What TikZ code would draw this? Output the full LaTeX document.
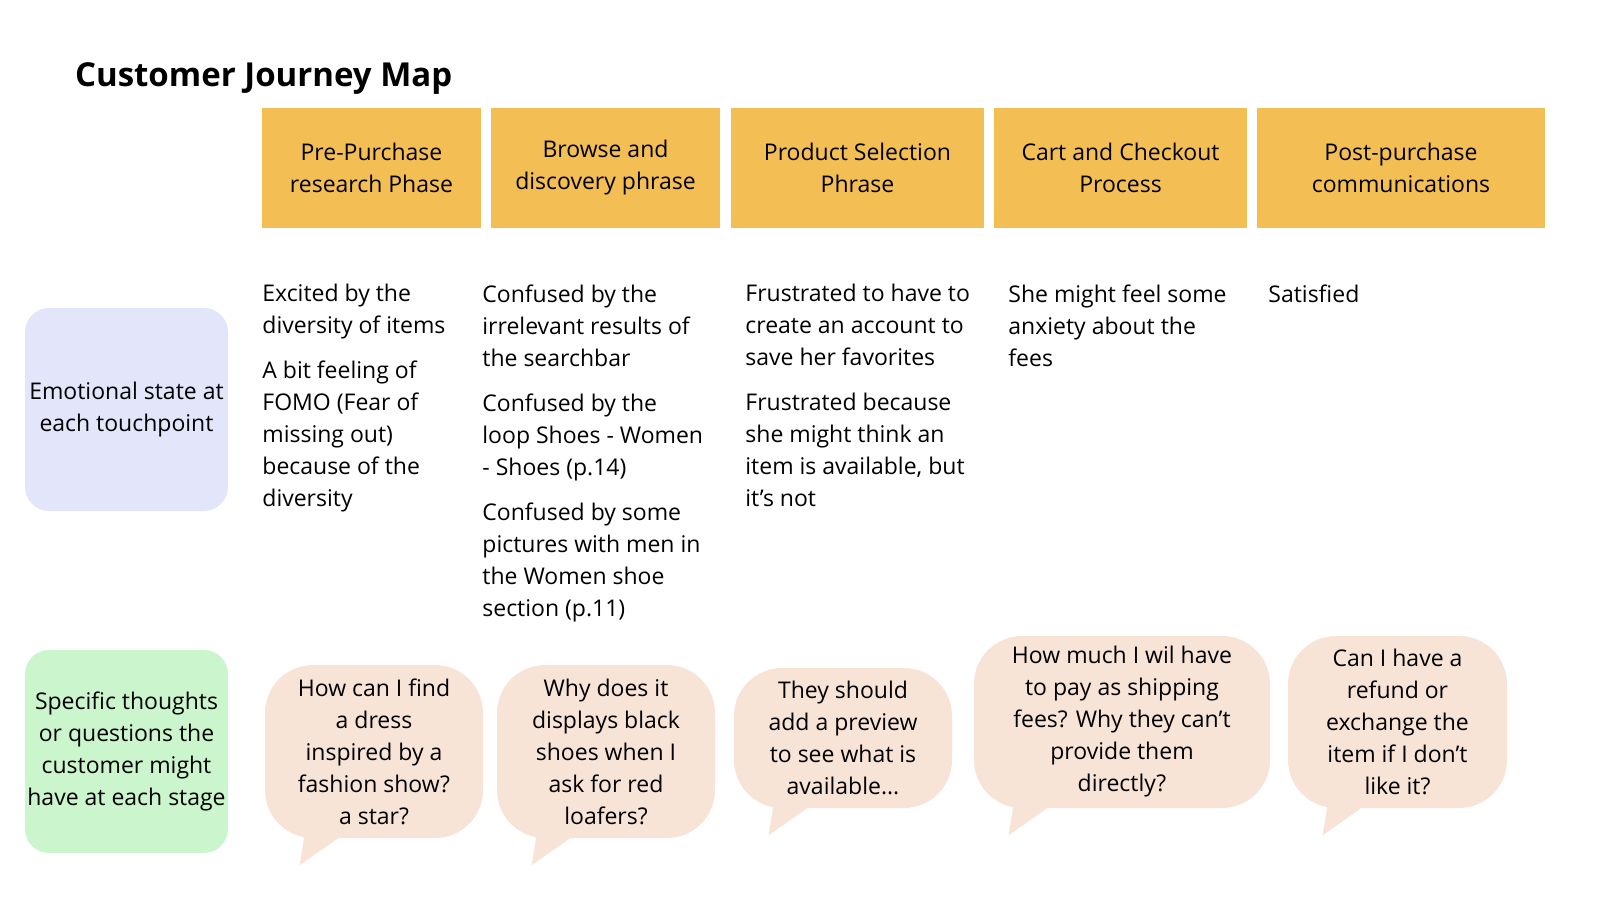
\documentclass[tikz,border=0pt]{standalone}
\usepackage{fontspec}
\setmainfont{Open Sans}
\usetikzlibrary{positioning}
\definecolor{phaseorange}{HTML}{F3BF55}
\definecolor{emoblue}{HTML}{E3E6FB}
\definecolor{thoughtgreen}{HTML}{CBF5CC}
\definecolor{bubblepeach}{HTML}{F8E3D7}
\tikzset{%
  % Specifications for style of nodes:
  phase/.style = {fill=phaseorange, minimum height=60pt, align=center,
                  inner sep=0pt, font=\fontsize{11.5}{16}\selectfont},
  rowhead/.style = {rounded corners=12pt, minimum width=101.5pt,
                  minimum height=101.5pt, align=center, inner sep=0pt,
                  font=\fontsize{11.5}{16}\selectfont},
  notes/.style = {anchor=north west, align=left, inner sep=0pt,
                  font=\fontsize{11.5}{16}\selectfont},
  bubble/.style = {fill=bubblepeach, rounded corners=24pt, align=center,
                  inner sep=0pt, font=\fontsize{11.5}{16}\selectfont}
}
\begin{document}
\begin{tikzpicture}[x=0.5pt, y=-0.5pt]
  \useasboundingbox (0,0) rectangle (1600,900);
  \node[anchor=west, font=\fontsize{16.5}{20}\selectfont\bfseries] (title) at (68,79) {Customer Journey Map};

  % phases
  \node[phase, minimum width=109.5pt] (p1) at (371.5,168) {Pre-Purchase\\research Phase};
  \node[phase, minimum width=114.5pt] (p2) at (605.5,168) {Browse and\\discovery phrase};
  \node[phase, minimum width=126.5pt] (p3) at (857.5,168) {Product Selection\\Phrase};
  \node[phase, minimum width=126.5pt] (p4) at (1120.5,168) {Cart and Checkout\\Process};
  \node[phase, minimum width=144pt] (p5) at (1401,168) {Post-purchase\\communications};

  % row heads
  \node[rowhead, fill=emoblue] (emo) at (126.5,409.5) {Emotional state at\\each touchpoint};
  \node[rowhead, fill=thoughtgreen] (thought) at (126.5,751.5) {Specific thoughts\\or questions the\\customer might\\have at each stage};

  % emotional notes
  \node[notes] (e1) at (262,284) {Excited by the\\diversity of items\\[6.5pt]A bit feeling of\\FOMO (Fear of\\missing out)\\because of the\\diversity};
  \node[notes] (e2) at (482,284) {Confused by the\\irrelevant results of\\the searchbar\\[6.5pt]Confused by the\\loop Shoes - Women\\- Shoes (p.14)\\[6.5pt]Confused by some\\pictures with men in\\the Women shoe\\section (p.11)};
  \node[notes] (e3) at (745,284) {Frustrated to have to\\create an account to\\save her favorites\\[6.5pt]Frustrated because\\she might think an\\item is available, but\\it’s not};
  \node[notes] (e4) at (1008,284) {She might feel some\\anxiety about the\\fees};
  \node[notes] (e5) at (1268,284) {Satisfied};

  % thought bubbles
  \node[bubble, minimum width=109pt, minimum height=86.5pt] (b1) at (374,751.5) {How can I find\\a dress\\inspired by a\\fashion show?\\a star?};
  \node[bubble, minimum width=109pt, minimum height=86.5pt] (b2) at (606,751.5) {Why does it\\displays black\\shoes when I\\ask for red\\loafers?};
  \node[bubble, minimum width=109pt, minimum height=70pt] (b3) at (843,738) {They should\\add a preview\\to see what is\\available...};
  \node[bubble, minimum width=148pt, minimum height=86pt] (b4) at (1122,722) {How much I wil have\\to pay as shipping\\fees? Why they can’t\\provide them\\directly?};
  \node[bubble, minimum width=109.5pt, minimum height=86pt] (b5) at (1397.5,722) {Can I have a\\refund or\\exchange the\\item if I don’t\\like it?};
  \foreach \b in {b1,b2,b3,b4,b5}
    \fill[bubblepeach] ([xshift=20pt,yshift=2pt]\b.south west) -- ([xshift=17.5pt,yshift=-13.5pt]\b.south west)
      -- ([xshift=38pt,yshift=1pt]\b.south west) -- cycle;
\end{tikzpicture}
\end{document}
